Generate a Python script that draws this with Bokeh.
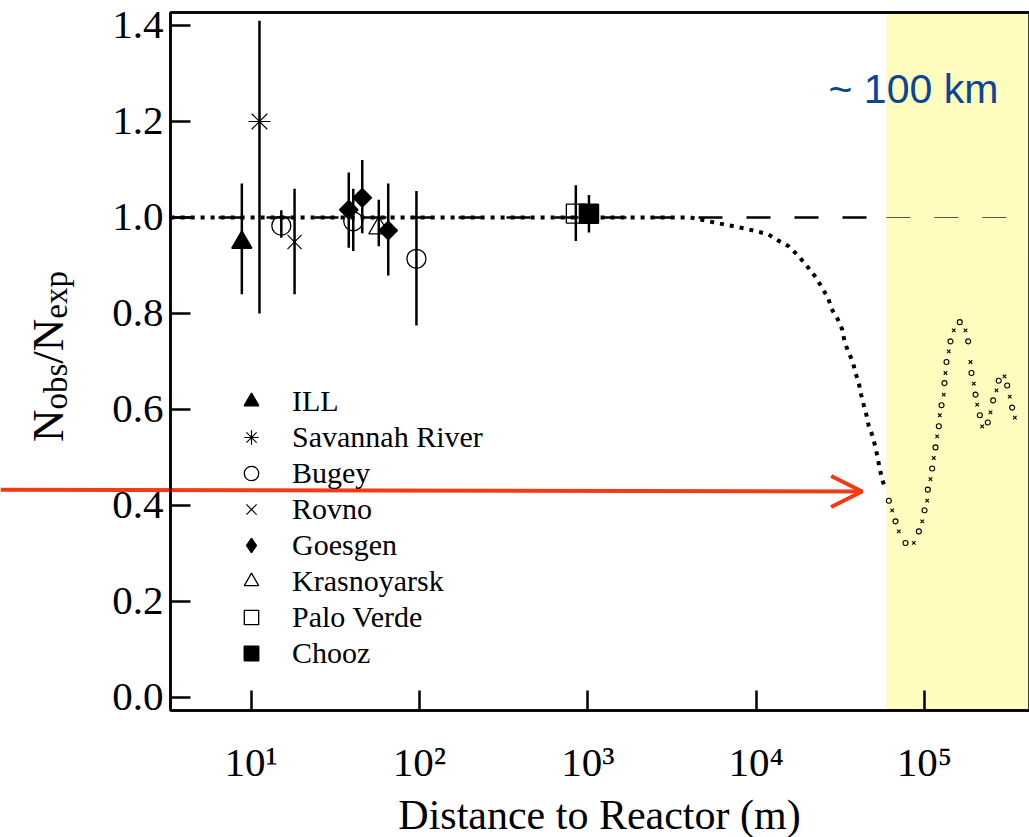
import math
from bokeh.plotting import figure
from bokeh.models import (ColumnDataSource, FixedTicker, CustomJSTickFormatter, NumeralTickFormatter,
                          BoxAnnotation, Arrow, OpenHead, Label, Legend, LegendItem, Range1d)
from bokeh.embed import file_html
from bokeh.resources import INLINE

# ---------------- data ----------------
exp_names = ["ILL", "Savannah River", "Bugey", "Rovno", "Goesgen", "Krasnoyarsk", "Palo Verde", "Chooz"]

point_exp = ["ILL", "Savannah River", "Bugey", "Rovno", "Goesgen", "Bugey", "Goesgen",
             "Krasnoyarsk", "Goesgen", "Bugey", "Palo Verde", "Chooz"]
point_dist = [8.8, 11.2, 15.1, 18.1, 38.0, 40.4, 45.7, 57.3, 65.2, 95.9, 849.0, 1016.0]
point_ratio = [0.948, 1.20, 0.983, 0.949, 1.016, 0.992, 1.041, 0.978, 0.973, 0.914, 1.008, 1.008]
point_low = [0.840, 0.800, 0.958, 0.840, 0.937, 0.930, 0.967, 0.940, 0.879, 0.775, 0.951, 0.969]
point_high = [1.071, 1.410, 1.015, 1.060, 1.094, 1.060, 1.120, 1.037, 1.071, 1.055, 1.067, 1.047]

# expected survival curve (distance in m, Nobs/Nexp)
curve_dist = [3.32, 30, 300, 2000, 4074, 5585, 8851, 11800, 13530, 15640, 17940, 20130, 22550,
              24720, 26810, 28060, 30570, 32480, 33510, 35250, 37570, 38980, 40780, 42100,
              43650, 45270, 46750, 49340, 51190, 52820, 54300, 56100, 58720,
              61480, 64420, 67370, 70440, 77230, 86520, 92680, 97090, 100200, 103900, 104800,
              108700, 111200, 113700, 116400, 119100, 121800, 123400, 126400, 130300, 131600,
              133400, 135300, 139600, 142900, 149500, 162300, 175400, 182000, 187800, 190400,
              196600, 201300, 206000, 213500, 220500, 238100, 247000, 256300, 268100, 276600,
              299100, 310400, 321500, 332300, 344700]
curve_ratio = [1.0, 1.0, 1.0, 1.0, 1.0, 0.990, 0.976, 0.965, 0.952, 0.940, 0.919, 0.898, 0.876,
               0.853, 0.832, 0.810, 0.788, 0.767, 0.742, 0.721, 0.699, 0.676, 0.655, 0.631,
               0.609, 0.588, 0.565, 0.544, 0.521, 0.499, 0.476, 0.455, 0.433,
               0.410, 0.390, 0.367, 0.346, 0.322, 0.322, 0.346, 0.367, 0.390, 0.410, 0.433,
               0.455, 0.477, 0.499, 0.521, 0.544, 0.565, 0.588, 0.609, 0.631, 0.655,
               0.676, 0.699, 0.721, 0.742, 0.765, 0.782, 0.765, 0.742, 0.699, 0.676,
               0.654, 0.631, 0.610, 0.588, 0.565, 0.573, 0.594, 0.619, 0.640, 0.660,
               0.669, 0.650, 0.627, 0.604, 0.583]

no_osc_level = 1.0
region_start = 5.95e4           # start of the highlighted (~100 km) band
arrow_level = [0.433, 0.429]    # red arrow height at its start / end
arrow_dist = [0.3239, 42660]

x_ticks = [10, 100, 1000, 10000, 100000]
y_ticks = [0.0, 0.2, 0.4, 0.6, 0.8, 1.0, 1.2, 1.4]

# page / axes box limits in data units
PAGE_X = (0.32393, 4.212e5)
PAGE_Y = (-0.29167, 1.45208)
X_MIN, X_MAX = 3.3152, 4.212e5
Y_MIN, Y_MAX = -0.02708, 1.42708

# ---------------- figure ----------------
# the frame covers the whole page so that the arrow and axis title can reach the page edge;
# axes are drawn at fixed locations on the axes box
SERIF = "Liberation Serif"
p = figure(width=1029, height=837, x_axis_type="log",
           x_range=Range1d(*PAGE_X), y_range=Range1d(*PAGE_Y),
           output_backend="svg", toolbar_location=None,
           min_border_left=0, min_border_right=0, min_border_top=0, min_border_bottom=0)
p.background_fill_color = "white"
p.border_fill_color = "white"
p.outline_line_color = None
p.xgrid.visible = False
p.ygrid.visible = False

# highlighted band
p.add_layout(BoxAnnotation(left=region_start, bottom=Y_MIN, top=Y_MAX,
                           fill_color="#FFFCBE", fill_alpha=1.0, line_alpha=0, level="underlay"))

# no-oscillation expectation (long dashes)
p.segment(x0=[X_MIN], y0=[no_osc_level], x1=[region_start], y1=[no_osc_level],
          line_color="black", line_width=2.5, line_dash="24 24")
p.segment(x0=[region_start], y0=[no_osc_level], x1=[X_MAX], y1=[no_osc_level],
          line_color="#555555", line_width=1.2, line_dash="24 24")

# survival curve
near = [(d, r) for d, r in zip(curve_dist, curve_ratio) if d <= region_start]
far = [(d, r) for d, r in zip(curve_dist, curve_ratio) if d > region_start]
p.line([d for d, _ in near], [r for _, r in near], line_color="black", line_width=4,
       line_dash="4 6", line_cap="butt")
far_src = ColumnDataSource(dict(x=[d for d, _ in far], y=[r for _, r in far],
                                m=["circle" if i % 2 == 0 else "x" for i in range(len(far))]))
p.scatter("x", "y", source=far_src, marker="m", size=5, line_color="black", line_width=1.1,
          fill_color=None)

# error bars
p.segment(x0=point_dist, y0=point_low, x1=point_dist, y1=point_high, line_color="black", line_width=2.5)

styles = {
    "ILL": dict(marker="triangle", size=20, fill_color="black", line_width=1.5, angle=0),
    "Savannah River": dict(marker="asterisk", size=22, fill_color=None, line_width=1.2, angle=0),
    "Bugey": dict(marker="circle", size=19, fill_color=None, line_width=1.3, angle=0),
    "Rovno": dict(marker="x", size=20, fill_color=None, line_width=1.2, angle=0),
    "Goesgen": dict(marker="square", size=13, fill_color="black", line_width=1.5, angle=math.pi / 4),
    "Krasnoyarsk": dict(marker="triangle", size=20, fill_color=None, line_width=1.3, angle=0),
    "Palo Verde": dict(marker="square", size=19, fill_color=None, line_width=1.3, angle=0),
    "Chooz": dict(marker="square", size=19, fill_color="black", line_width=1.5, angle=0),
}

items = []
for name in exp_names:
    xs = [d for e, d in zip(point_exp, point_dist) if e == name]
    ys = [r for e, r in zip(point_exp, point_ratio) if e == name]
    st = styles[name]
    leg_r = None
    if st["angle"]:
        # the legend ignores marker rotation: a small diamond (hidden under the rotated
        # square) provides the legend swatch
        leg_r = p.scatter(xs, ys, marker="diamond", size=12, fill_color="black",
                          line_color="black", line_width=1.5)
    r = p.scatter(xs, ys, marker=st["marker"], size=st["size"], fill_color=st["fill_color"],
                  line_color="black", line_width=st["line_width"], angle=st["angle"])
    items.append(LegendItem(label=name, renderers=[leg_r or r]))

legend = Legend(items=items, location=(233, 166), orientation="vertical",
                glyph_width=36, glyph_height=36, label_height=36, spacing=0, padding=0,
                label_standoff=23, label_text_font=SERIF, label_text_font_size="30px",
                label_text_color="black", border_line_alpha=0, background_fill_alpha=0,
                margin=0)
p.add_layout(legend)

# axes box edge (top)
p.line(x=[X_MIN, X_MAX], y=[Y_MAX, Y_MAX], line_color="black", line_width=2.5)
p.add_layout(BoxAnnotation(left=X_MIN, right=X_MAX, bottom=Y_MIN, top=Y_MAX,
                           fill_alpha=0, line_color="black", line_alpha=1.0, line_width=2.5,
                           level="overlay"))

# axes
xa = p.xaxis[0]
xa.ticker = FixedTicker(ticks=x_ticks, minor_ticks=[])
xa.formatter = CustomJSTickFormatter(code="""
const sup = {1: "\u00b9", 2: "\u00b2", 3: "\u00b3", 4: "\u2074", 5: "\u2075"};
const e = Math.round(Math.log10(tick));
return "10" + sup[e];
""")
xa.fixed_location = Y_MIN
xa.bounds = (X_MIN, X_MAX)
ya = p.yaxis[0]
ya.ticker = FixedTicker(ticks=y_ticks, minor_ticks=[])
ya.formatter = NumeralTickFormatter(format="0.0")
ya.fixed_location = X_MIN
ya.bounds = (Y_MIN, Y_MAX)

for ax in (xa, ya):
    ax.axis_line_width = 2.5
    ax.axis_line_color = "black"
    ax.major_tick_in = 20
    ax.major_tick_out = 0
    ax.major_tick_line_width = 2.5
    ax.major_tick_line_color = "black"
    ax.minor_tick_line_color = None
    ax.major_label_text_font = SERIF
    ax.major_label_text_font_size = "41px"
    ax.major_label_text_color = "black"
xa.major_label_standoff = 29
ya.major_label_standoff = 7

# x axis title
p.add_layout(Label(x=math.sqrt(X_MIN * 4.155e5), y=-0.245, text="Distance to Reactor (m)",
                   text_align="center", text_baseline="middle", text_font=SERIF,
                   text_font_size="42px", text_color="black"))

# y axis title N_obs / N_exp built from pieces (rotated, reading upward)
parts = [("N", 45, 0.722, 0), ("obs", 33, 1.389, 8), ("/", 45, 0.278, 0),
         ("N", 45, 0.722, 0), ("exp", 33, 1.444, 8)]
total = sum(sz * em for _, sz, em, _ in parts)
pos = 481 - total / 2
for txt, sz, em, shift in parts:
    p.add_layout(Label(x=47 + shift, y=pos, x_units="screen", y_units="screen", text=txt,
                       angle=math.pi / 2, text_align="left", text_baseline="alphabetic",
                       text_font=SERIF, text_font_size=f"{sz}px", text_color="black"))
    pos += sz * em

# annotation text
p.add_layout(Label(x=828, y=749, x_units="screen", y_units="screen", text="~ 100 km",
                   text_font="Liberation Sans", text_font_size="41px", text_color="#0B4595",
                   text_align="left", text_baseline="middle"))

# red arrow
p.add_layout(Arrow(end=OpenHead(size=31, line_color="#F33A12", line_width=4),
                   x_start=arrow_dist[0], y_start=arrow_level[0],
                   x_end=arrow_dist[1], y_end=arrow_level[1],
                   line_color="#F33A12", line_width=4))

with open("out.html", "w", encoding="utf-8") as f:
    f.write(file_html(p, INLINE))
